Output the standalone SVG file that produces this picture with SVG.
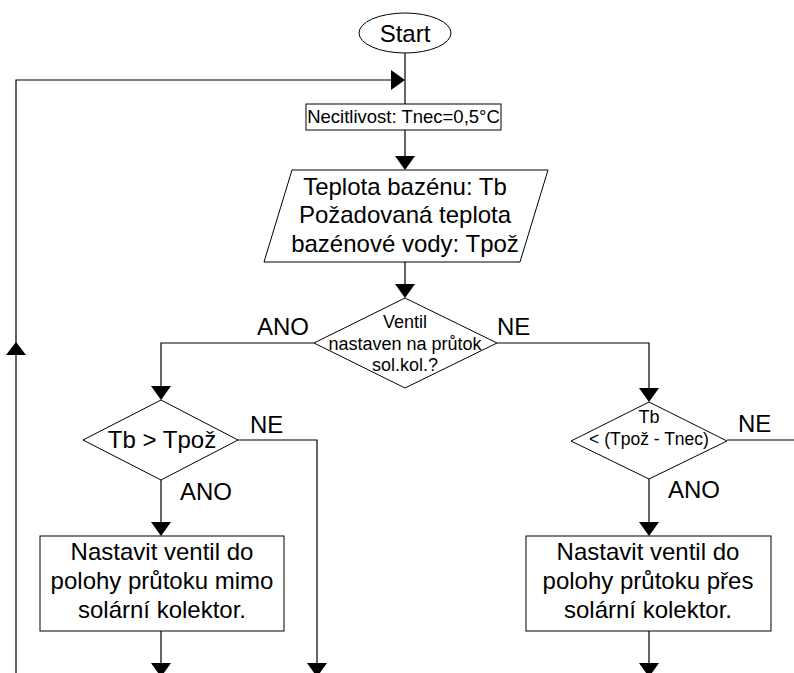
<svg xmlns="http://www.w3.org/2000/svg" width="794" height="673" viewBox="0 0 794 673">
<style>
.s{fill:#fff;stroke:#000;stroke-width:1}
.c{fill:none;stroke:#000;stroke-width:1.2}
.a{fill:#000;stroke:none}
text{font-family:"Liberation Sans",Arial,sans-serif;fill:#000;text-anchor:middle}
.t24{font-size:24px}
.t18{font-size:18px}
.l{font-size:24px;text-anchor:start}
</style>
<rect width="794" height="673" fill="#fff"/>
<g id="connectors">
<path class="c" d="M405,53V104M405,130V160M405,262V288M314,343H161V390M497,343H649V392M161,480V526M238,440H317V665M727,440H794M649,479V526M161,631V665M649,631V665M16,673V80H395"/>
<polygon class="a" points="391,70 405,80 391,90"/>
<polygon class="a" points="395,156 415,156 405,170"/>
<polygon class="a" points="395,284 415,284 405,298"/>
<polygon class="a" points="151,386 171,386 161,400"/>
<polygon class="a" points="639,388 659,388 649,402"/>
<polygon class="a" points="151,522 171,522 161,536"/>
<polygon class="a" points="639,522 659,522 649,536"/>
<polygon class="a" points="151,663 171,663 161,677"/>
<polygon class="a" points="307,663 327,663 317,677"/>
<polygon class="a" points="639,663 659,663 649,677"/>
<polygon class="a" points="6,355 26,355 16,342"/>
<text class="l" x="257" y="335">ANO</text>
<text class="l" x="497" y="335">NE</text>
<text class="l" x="250" y="433">NE</text>
<text class="l" x="180" y="500">ANO</text>
<text class="l" x="738" y="432">NE</text>
<text class="l" x="668" y="498">ANO</text>
</g>
<g id="start">
<ellipse class="s" cx="405" cy="33" rx="46" ry="20"/>
<text class="t24" x="405" y="42">Start</text>
</g>
<g id="necitlivost">
<rect class="s" x="306" y="104" width="195" height="26"/>
<text x="403.5" y="123" style="font-size:18.5px">Necitlivost: Tnec=0,5°C</text>
</g>
<g id="vstup">
<polygon class="s" points="292,170 548,170 520,262 264,262"/>
<text class="t24" x="405" y="195">Teplota bazénu: Tb</text>
<text class="t24" x="405" y="223">Požadovaná teplota</text>
<text class="t24" x="405" y="252">bazénové vody: Tpož</text>
</g>
<g id="ventil">
<polygon class="s" points="405,298 497,343 405,388 314,343"/>
<text class="t18" x="405" y="328">Ventil</text>
<text class="t18" x="405" y="350">nastaven na průtok</text>
<text class="t18" x="405" y="371">sol.kol.?</text>
</g>
<g id="tb-vetsi">
<polygon class="s" points="161,400 238,440 161,480 83,440"/>
<text class="t24" x="162" y="448">Tb &gt; Tpož</text>
</g>
<g id="tb-mensi">
<polygon class="s" points="649,402 727,441 649,479 571,441"/>
<text class="t18" x="649" y="423">Tb</text>
<text x="649" y="445" style="font-size:17.5px">&lt; (Tpož - Tnec)</text>
</g>
<g id="mimo">
<rect class="s" x="40" y="536" width="244" height="95"/>
<text class="t24" x="162" y="560">Nastavit ventil do</text>
<text class="t24" x="162" y="589">polohy průtoku mimo</text>
<text class="t24" x="162" y="618">solární kolektor.</text>
</g>
<g id="pres">
<rect class="s" x="526" y="536" width="245" height="95"/>
<text class="t24" x="648" y="560">Nastavit ventil do</text>
<text class="t24" x="648" y="589">polohy průtoku přes</text>
<text class="t24" x="648" y="618">solární kolektor.</text>
</g>
</svg>
